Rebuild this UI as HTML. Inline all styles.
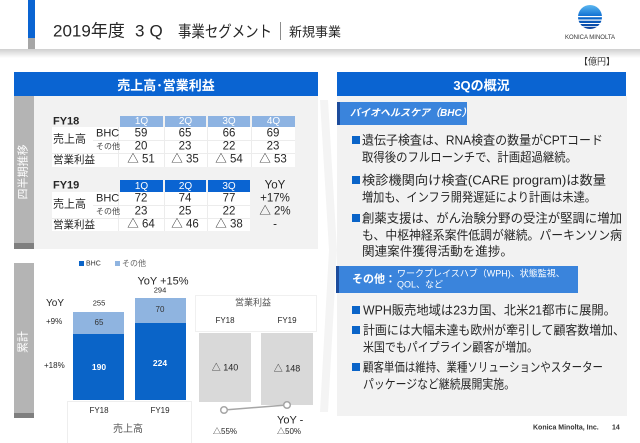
<!DOCTYPE html>
<html><head><meta charset="utf-8">
<style>
*{margin:0;padding:0;box-sizing:border-box}
body{width:640px;height:443px;overflow:hidden;background:#fff;position:relative;font-family:"Liberation Sans","Noto Sans CJK JP",sans-serif;color:#262626}
.a{position:absolute;white-space:nowrap;line-height:1}
.cc{transform:translate(-50%,-50%)}
.lc{transform:translateY(-50%)}
.b{position:absolute}
.hd{position:absolute;background:#0a64d2;color:#fff;font-weight:bold;font-size:13px;display:flex;align-items:center;justify-content:center}
.qh{position:absolute;height:11px;color:#fff;font-size:10px;display:flex;align-items:center;justify-content:center}
.v{font-size:11.5px;color:#262626}
.sq{position:absolute;width:8px;height:8px;background:#0a64c8}
svg text{font-family:"Liberation Sans","Noto Sans CJK JP",sans-serif}
</style></head><body>

<!-- header -->
<div class="b" style="left:28px;top:0;width:7px;height:38px;background:#0a64d2"></div>
<div class="b" style="left:28px;top:38px;width:7px;height:12px;background:#a6a6a6"></div>
<div class="b" style="left:0;top:49px;width:640px;height:9px;background:linear-gradient(#cfcfcf,#ffffff)"></div>
<div class="a lc" style="left:53px;top:31px;font-size:17px;color:#262626">2019年度</div>
<div class="a lc" style="left:135px;top:31px;font-size:17px;letter-spacing:5px;color:#262626">3Q</div>
<svg class="b" style="left:170px;top:18px" width="110" height="26" viewBox="170 18 110 26"><text x="178" y="37" font-size="16" fill="#262626" textLength="94" lengthAdjust="spacingAndGlyphs">事業セグメント</text></svg>
<div class="b" style="left:280px;top:22px;width:1px;height:18px;background:#8c8c8c"></div>
<div class="a lc" style="left:289px;top:32px;font-size:13px;color:#262626">新規事業</div>

<!-- logo -->
<svg class="b" style="left:570px;top:2px" width="42" height="42" viewBox="570 2 42 42">
<defs><linearGradient id="lg" x1="0" y1="0" x2="0" y2="1"><stop offset="0" stop-color="#5cb8f0"/><stop offset="0.5" stop-color="#0a6ad0"/><stop offset="1" stop-color="#0a3f99"/></linearGradient></defs>
<circle cx="590" cy="17" r="12" fill="url(#lg)"/>
<rect x="577" y="16" width="26" height="1.2" fill="#fff"/>
<rect x="577" y="19.5" width="26" height="1.2" fill="#fff"/>
<rect x="577" y="23" width="26" height="1" fill="#fff"/>
<rect x="577" y="26" width="26" height="0.8" fill="#fff"/>
</svg>
<div class="a cc" style="left:590px;top:38px;font-size:6px;color:#333">KONICA MINOLTA</div>

<div class="a cc" style="left:597px;top:62px;font-size:9px;color:#333">【億円】</div>

<!-- chevron -->
<svg class="b" style="left:318px;top:96px" width="22" height="320"><polygon points="2,4 10,4 19,154 10,316 2,316 11,154" fill="#f4f4f4"/></svg>

<!-- headers -->
<div class="hd" style="left:14px;top:72px;width:304px;height:24px">売上高･営業利益</div>
<div class="hd" style="left:337px;top:72px;width:289px;height:24px">3Qの概況</div>

<!-- left top panel -->
<div class="b" style="left:14px;top:96px;width:304px;height:153px;background:#f2f2f2"></div>
<div class="b" style="left:14px;top:96px;width:20px;height:147px;background:#b4b4b4"></div>
<div class="b" style="left:14px;top:243px;width:20px;height:6px;background:#7f7f7f"></div>
<div class="a cc" style="left:24px;top:172px;font-size:11px;color:#fff;transform:translate(-50%,-50%) rotate(-90deg)">四半期推移</div>

<!-- FY18 table -->
<div class="a lc" style="left:53px;top:122px;font-size:11px;font-weight:bold">FY18</div>
<div class="qh" style="left:120px;top:116px;width:43px;background:#8db3e2">1Q</div>
<div class="qh" style="left:165px;top:116px;width:41px;background:#8db3e2">2Q</div>
<div class="qh" style="left:208px;top:116px;width:42px;background:#8db3e2">3Q</div>
<div class="qh" style="left:252px;top:116px;width:43px;background:#8db3e2">4Q</div>
<div class="b" style="left:52px;top:127px;width:243px;height:40px;background:#fff"></div>
<div class="b" style="left:93px;top:140px;width:202px;height:1px;background:#ececec"></div>
<div class="b" style="left:52px;top:153px;width:243px;height:1px;background:#ececec"></div>
<div class="b" style="left:118px;top:127px;width:1px;height:40px;background:#ececec"></div>
<div class="b" style="left:164px;top:127px;width:1px;height:40px;background:#ececec"></div>
<div class="b" style="left:207px;top:127px;width:1px;height:40px;background:#ececec"></div>
<div class="b" style="left:251px;top:127px;width:1px;height:40px;background:#ececec"></div>
<div class="a lc" style="left:53px;top:140px;font-size:11px">売上高</div>
<div class="a lc" style="left:96px;top:134px;font-size:11px">BHC</div>
<div class="a lc" style="left:96px;top:147px;font-size:8px;color:#444">その他</div>
<div class="a lc" style="left:53px;top:160px;font-size:10.5px">営業利益</div>
<div class="a cc v" style="left:141px;top:134px">59</div>
<div class="a cc v" style="left:185px;top:134px">65</div>
<div class="a cc v" style="left:229px;top:134px">66</div>
<div class="a cc v" style="left:273px;top:134px">69</div>
<div class="a cc v" style="left:141px;top:147px">20</div>
<div class="a cc v" style="left:185px;top:147px">23</div>
<div class="a cc v" style="left:229px;top:147px">22</div>
<div class="a cc v" style="left:273px;top:147px">23</div>
<div class="a cc v" style="left:141px;top:160px">△ 51</div>
<div class="a cc v" style="left:185px;top:160px">△ 35</div>
<div class="a cc v" style="left:229px;top:160px">△ 54</div>
<div class="a cc v" style="left:273px;top:160px">△ 53</div>

<!-- FY19 table -->
<div class="a lc" style="left:53px;top:186px;font-size:11px;font-weight:bold">FY19</div>
<div class="qh" style="left:120px;top:180px;width:43px;height:12px;background:#0a64d2">1Q</div>
<div class="qh" style="left:165px;top:180px;width:41px;height:12px;background:#0a64d2">2Q</div>
<div class="qh" style="left:208px;top:180px;width:42px;height:12px;background:#0a64d2">3Q</div>
<div class="b" style="left:52px;top:192px;width:198px;height:39px;background:#fff"></div>
<div class="b" style="left:93px;top:205px;width:157px;height:1px;background:#ececec"></div>
<div class="b" style="left:52px;top:218px;width:198px;height:1px;background:#ececec"></div>
<div class="b" style="left:118px;top:192px;width:1px;height:39px;background:#ececec"></div>
<div class="b" style="left:164px;top:192px;width:1px;height:39px;background:#ececec"></div>
<div class="b" style="left:207px;top:192px;width:1px;height:39px;background:#ececec"></div>
<div class="a lc" style="left:53px;top:205px;font-size:11px">売上高</div>
<div class="a lc" style="left:96px;top:199px;font-size:11px">BHC</div>
<div class="a lc" style="left:96px;top:212px;font-size:8px;color:#444">その他</div>
<div class="a lc" style="left:53px;top:225px;font-size:10.5px">営業利益</div>
<div class="a cc v" style="left:141px;top:199px">72</div>
<div class="a cc v" style="left:185px;top:199px">74</div>
<div class="a cc v" style="left:229px;top:199px">77</div>
<div class="a cc v" style="left:141px;top:212px">23</div>
<div class="a cc v" style="left:185px;top:212px">25</div>
<div class="a cc v" style="left:229px;top:212px">22</div>
<div class="a cc v" style="left:141px;top:225px">△ 64</div>
<div class="a cc v" style="left:185px;top:225px">△ 46</div>
<div class="a cc v" style="left:229px;top:225px">△ 38</div>
<div class="a cc v" style="left:275px;top:186px">YoY</div>
<div class="a cc v" style="left:275px;top:199px">+17%</div>
<div class="a cc v" style="left:275px;top:212px">△ 2%</div>
<div class="a cc v" style="left:275px;top:225px">-</div>

<!-- lower left panel -->
<div class="b" style="left:14px;top:263px;width:20px;height:150px;background:#b4b4b4"></div>
<div class="b" style="left:14px;top:413px;width:20px;height:5px;background:#7f7f7f"></div>
<div class="a cc" style="left:24px;top:342px;font-size:11px;color:#fff;transform:translate(-50%,-50%) rotate(-90deg)">累計</div>

<div class="b" style="left:79px;top:261px;width:5px;height:5px;background:#0a64c8"></div>
<div class="a lc" style="left:86px;top:264px;font-size:7px;color:#333">BHC</div>
<div class="b" style="left:115px;top:261px;width:5px;height:5px;background:#8fb4e0"></div>
<div class="a lc" style="left:122px;top:264px;font-size:8px;color:#666">その他</div>

<div class="a cc" style="left:163px;top:282px;font-size:11px">YoY +15%</div>
<div class="a cc" style="left:160px;top:290px;font-size:7.5px">294</div>
<div class="a cc" style="left:99px;top:303px;font-size:7.5px">255</div>
<div class="a lc" style="left:46px;top:304px;font-size:10px">YoY</div>
<div class="a lc" style="left:46px;top:322px;font-size:8px">+9%</div>
<div class="a lc" style="left:44px;top:366px;font-size:8px">+18%</div>

<div class="b" style="left:73px;top:312px;width:51px;height:22px;background:#8fb4e0"></div>
<div class="b" style="left:73px;top:334px;width:51px;height:66px;background:#0a64c8"></div>
<div class="b" style="left:135px;top:298px;width:51px;height:25px;background:#8fb4e0"></div>
<div class="b" style="left:135px;top:323px;width:51px;height:77px;background:#0a64c8"></div>
<div class="a cc" style="left:99px;top:323px;font-size:8px;color:#333">65</div>
<div class="a cc" style="left:160px;top:310px;font-size:8px;color:#333">70</div>
<div class="a cc" style="left:99px;top:367px;font-size:8.5px;color:#fff;font-weight:bold">190</div>
<div class="a cc" style="left:160px;top:363px;font-size:8.5px;color:#fff;font-weight:bold">224</div>

<div class="b" style="left:67px;top:401px;width:125px;height:42px;border:1px solid #eeeeee;border-bottom:none"></div>
<div class="a cc" style="left:99px;top:411px;font-size:8px">FY18</div>
<div class="a cc" style="left:160px;top:411px;font-size:8px">FY19</div>
<div class="a cc" style="left:128px;top:430px;font-size:10px;color:#555">売上高</div>

<div class="b" style="left:195px;top:295px;width:122px;height:37px;border:1px solid #f0f0f0"></div>
<div class="a cc" style="left:253px;top:303px;font-size:9px;color:#555">営業利益</div>
<div class="a cc" style="left:225px;top:321px;font-size:8px">FY18</div>
<div class="a cc" style="left:287px;top:321px;font-size:8px">FY19</div>
<div class="b" style="left:199px;top:333px;width:52px;height:69px;background:#d9d9d9"></div>
<div class="b" style="left:261px;top:333px;width:52px;height:72px;background:#d9d9d9"></div>
<div class="a cc" style="left:225px;top:368px;font-size:9px">△ 140</div>
<div class="a cc" style="left:287px;top:369px;font-size:9px">△ 148</div>
<svg class="b" style="left:190px;top:395px" width="130" height="25" viewBox="190 395 130 25">
<line x1="224" y1="410" x2="287" y2="405" stroke="#a6a6a6" stroke-width="1.5"/>
<circle cx="224" cy="410" r="3.3" fill="#fff" stroke="#a6a6a6" stroke-width="1.5"/>
<circle cx="287" cy="405" r="3.3" fill="#fff" stroke="#a6a6a6" stroke-width="1.5"/>
</svg>
<div class="a lc" style="left:277px;top:421px;font-size:11px">YoY -</div>
<div class="a lc" style="left:277px;top:432px;font-size:8px">△50%</div>
<div class="a lc" style="left:213px;top:432px;font-size:8px">△55%</div>

<!-- right panel -->
<div class="b" style="left:337px;top:96px;width:290px;height:320px;background:#f2f2f2"></div>
<div class="b" style="left:337px;top:102px;width:130px;height:23px;background:#3a84dc"></div>
<div class="b" style="left:337px;top:102px;width:3px;height:23px;background:#1c4c9c"></div>
<div class="a lc" style="left:350px;top:114px;font-size:10px;font-weight:bold;color:#fff;font-style:italic">バイオヘルスケア（BHC）</div>

<div class="b" style="left:336px;top:266px;width:242px;height:27px;background:#3a84dc"></div>
<div class="b" style="left:336px;top:266px;width:3px;height:27px;background:#1c4c9c"></div>
<div class="a lc" style="left:352px;top:280px;font-size:11px;font-weight:bold;color:#fff">その他：</div>
<div class="a lc" style="left:397px;top:274px;font-size:9px;color:#fff">ワークプレイスハブ（WPH)、状態監視、</div>
<div class="a lc" style="left:397px;top:285px;font-size:9px;color:#fff">QOL、など</div>

<div class="sq" style="left:352px;top:136px"></div>
<div class="sq" style="left:352px;top:176px"></div>
<div class="sq" style="left:352px;top:214px"></div>
<div class="sq" style="left:352px;top:306px"></div>
<div class="sq" style="left:352px;top:326px"></div>
<div class="sq" style="left:352px;top:363px"></div>

<svg class="b" style="left:0;top:0" width="640" height="443" viewBox="0 0 640 443">
<g font-size="12.5" fill="#262626" lengthAdjust="spacingAndGlyphs">
<text x="362" y="144.5" textLength="241" lengthAdjust="spacingAndGlyphs">遺伝子検査は、RNA検査の数量がCPTコード</text>
<text x="362" y="161.5" textLength="215" lengthAdjust="spacingAndGlyphs">取得後のフルローンチで、計画超過継続。</text>
<text x="362" y="184.5" textLength="244" lengthAdjust="spacingAndGlyphs">検診機関向け検査(CARE program)は数量</text>
<text x="362" y="201.5" textLength="234" lengthAdjust="spacingAndGlyphs">増加も、インフラ開発遅延により計画は未達。</text>
<text x="362" y="222.5" textLength="260" lengthAdjust="spacingAndGlyphs">創薬支援は、がん治験分野の受注が堅調に増加</text>
<text x="362" y="239.5" textLength="260" lengthAdjust="spacingAndGlyphs">も、中枢神経系案件低調が継続。パーキンソン病</text>
<text x="362" y="255.5" textLength="151" lengthAdjust="spacingAndGlyphs">関連案件獲得活動を進捗。</text>
<text x="363" y="314.5" textLength="253" lengthAdjust="spacingAndGlyphs">WPH販売地域は23カ国、北米21都市に展開。</text>
<text x="363" y="334.5" textLength="262" lengthAdjust="spacingAndGlyphs">計画には大幅未達も欧州が牽引して顧客数増加、</text>
<text x="363" y="351.5" textLength="175" lengthAdjust="spacingAndGlyphs">米国でもパイプライン顧客が増加。</text>
<text x="363" y="371.5" textLength="240" lengthAdjust="spacingAndGlyphs">顧客単価は維持、業種ソリューションやスターター</text>
<text x="363" y="388.5" textLength="152" lengthAdjust="spacingAndGlyphs">パッケージなど継続展開実施。</text>
</g>
</svg>

<div class="a lc" style="left:533px;top:428px;font-size:7px;color:#333;font-weight:bold">Konica Minolta, Inc.</div>
<div class="a lc" style="left:612px;top:428px;font-size:7px;color:#333;font-weight:bold">14</div>

</body></html>
